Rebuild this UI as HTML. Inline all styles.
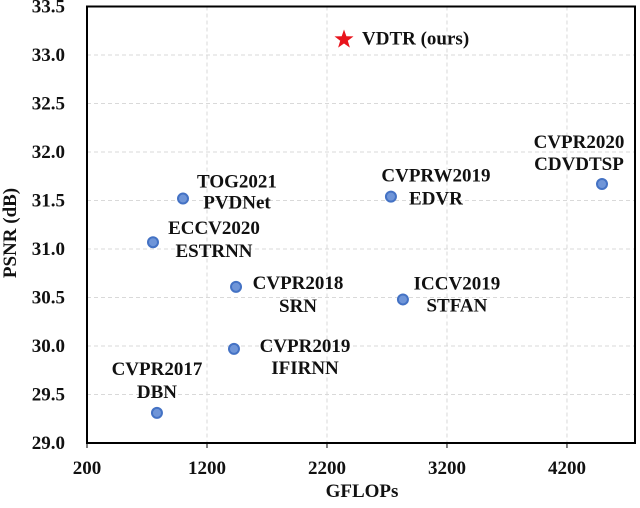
<!DOCTYPE html>
<html><head><meta charset="utf-8"><style>
body{margin:0;background:#fff;}
svg, svg text{font-family:"Liberation Serif","Times New Roman",serif !important;font-weight:bold;}
svg text{fill:#111;}
</style></head><body>
<svg id="chart" width="640" height="503" xmlns="http://www.w3.org/2000/svg" font-family="Liberation Serif, serif" font-weight="bold">
<g id="grid"></g>
<g id="axes"></g>
<g id="marks"></g>
<text x="362" y="497" font-size="19" text-anchor="middle" font-family="Liberation Serif, serif">GFLOPs</text>
<text transform="translate(16,233) rotate(-90)" font-size="19" text-anchor="middle" font-family="Liberation Serif, serif">PSNR (dB)</text>
</svg>
<script>
const methods=["VDTR (ours)","TOG2021 PVDNet","ECCV2020 ESTRNN","CVPR2018 SRN","CVPR2019 IFIRNN","CVPR2017 DBN","CVPRW2019 EDVR","CVPR2020 CDVDTSP","ICCV2019 STFAN"];
const gflops=[2342,1000,750,1442,1425,783,2733,4492,2833];
const psnr=[33.16,31.52,31.07,30.61,29.97,29.31,31.54,31.67,30.48];
const xTicks=[200,1200,2200,3200,4200];
const yTicks=[29.0,29.5,30.0,30.5,31.0,31.5,32.0,32.5,33.0,33.5];
const labelLines=[["VDTR (ours)",""],["TOG2021","PVDNet"],["ECCV2020","ESTRNN"],["CVPR2018","SRN"],["CVPR2019","IFIRNN"],["CVPR2017","DBN"],["CVPRW2019","EDVR"],["CVPR2020","CDVDTSP"],["ICCV2019","STFAN"]];
const labelOffsets=[[18,-1,0,"start"],[54,-17,4,"middle"],[61,-14,9,"middle"],[62,-4,19,"middle"],[71,-3,19,"middle"],[0,-44,-21,"middle"],[45,-21,2,"middle"],[-23,-42,-20,"middle"],[54,-16,6,"middle"]];

const L=87,R=635,T=6.5,B=443,xmin=200,xmax=4767,ymin=29,ymax=33.5;
const sx=v=>L+(v-xmin)/(xmax-xmin)*(R-L);
const sy=v=>B-(v-ymin)/(ymax-ymin)*(B-T);
const NS="http://www.w3.org/2000/svg";
const FF="Liberation Serif, serif";
function mk(tag,attrs,parent){const e=document.createElementNS(NS,tag);for(const k in attrs)e.setAttribute(k,attrs[k]);parent.appendChild(e);return e;}
const grid=document.getElementById('grid'),axes=document.getElementById('axes'),marks=document.getElementById('marks');
yTicks.forEach(t=>{
  if(t>ymin&&t<ymax){const g=mk('line',{x1:L,x2:R,y1:sy(t),y2:sy(t),stroke:'#d9d9d9','stroke-width':1,'stroke-dasharray':'4,3'},grid);
  
  }
  const tx=mk('text',{x:65,y:sy(t)+6,'font-size':19,'text-anchor':'end','font-family':FF},axes);tx.textContent=t.toFixed(1);
  
  
});
xTicks.forEach(t=>{
  if(t>xmin){const g=mk('line',{x1:sx(t),x2:sx(t),y1:T,y2:B,stroke:'#d9d9d9','stroke-width':1,'stroke-dasharray':'4,3'},grid);
  
  }
  const tk=mk('line',{x1:sx(t),x2:sx(t),y1:B,y2:B+5,stroke:'#000','stroke-width':1},axes);
  
  
  const tx=mk('text',{x:sx(t),y:474,'font-size':19,'text-anchor':'middle','font-family':FF},axes);tx.textContent=t;
  
  
});
const frame=mk('rect',{x:L,y:T,width:R-L,height:B-T,fill:'none',stroke:'#000','stroke-width':2},axes);


methods.forEach((m,i)=>{
  const x=sx(gflops[i]),y=sy(psnr[i]);
  let p;
  if(i===0){
    const pts=[];for(let k=0;k<10;k++){const r=k%2?4:10,a=-Math.PI/2+k*Math.PI/5;pts.push((x+r*Math.cos(a)).toFixed(1)+','+(y+r*Math.sin(a)).toFixed(1));}
    p=mk('polygon',{points:pts.join(' '),fill:'#e8141c'},marks);
  } else {
    p=mk('circle',{cx:x,cy:y,r:5,fill:'#6f95d8',stroke:'#4472c4','stroke-width':2},marks);
  }
  
  
  const o=labelOffsets[i],ln=labelLines[i];
  const t1=mk('text',{x:x+o[0],y:y+o[1]+6,'font-size':19,'text-anchor':o[3],'font-family':FF},marks);t1.textContent=ln[0];
  
  
  if(ln[1]){const t2=mk('text',{x:x+o[0],y:y+o[2]+6,'font-size':19,'text-anchor':o[3],'font-family':FF},marks);t2.textContent=ln[1];
  
  }
});
</script>
</body></html>
